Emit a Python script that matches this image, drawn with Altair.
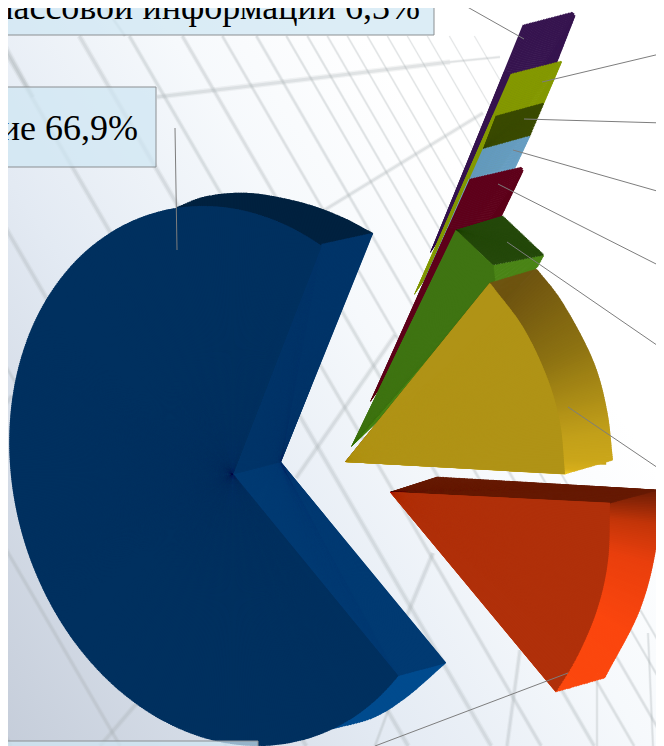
import numpy as np
import pandas as pd
import altair as alt

alt.data_transformers.disable_max_rows()

# ---- chart values readable in the picture ----
shown_names = ["Средства массовой информации", "ие"]
shown_values = [6.3, 66.9]

M = 8  # page margin: picture coordinates -> chart coordinates


def lerp_hex(stops, t):
    pts = [(s[0], tuple(int(s[1][i:i + 2], 16) for i in (1, 3, 5))) for s in stops]
    for (a, ca), (b, cb) in zip(pts, pts[1:]):
        if t <= b:
            f = 0 if b == a else (t - a) / (b - a)
            return "#%02x%02x%02x" % tuple(int(round(x + (y - x) * f)) for x, y in zip(ca, cb))
    return "#%02x%02x%02x" % pts[-1][1]


def spline(points, n=14):
    """Catmull-Rom through the given outline points."""
    p = np.array(points, float)
    p = np.vstack([2 * p[0] - p[1], p, 2 * p[-1] - p[-2]])
    out = []
    for i in range(1, len(p) - 2):
        for t in np.linspace(0, 1, n, endpoint=False):
            out.append(0.5 * ((2 * p[i]) + (-p[i - 1] + p[i + 1]) * t
                              + (2 * p[i - 1] - 5 * p[i] + 4 * p[i + 1] - p[i + 2]) * t ** 2
                              + (-p[i - 1] + 3 * p[i] - 3 * p[i + 1] + p[i + 2]) * t ** 3))
    out.append(p[-2])
    return [tuple(q) for q in out]


def ellipse_rim(apex, points, n=520):
    """Smooth rim: the ellipse closest to the outline points, walked as seen from the tip."""
    ax, ay = apex
    p = np.array(points, float) - (ax, ay)
    A = np.column_stack([p[:, 0] ** 2, p[:, 0] * p[:, 1], p[:, 1] ** 2, p[:, 0], p[:, 1]])
    a, b, c, d, e = np.linalg.lstsq(A, np.ones(len(p)), rcond=None)[0]
    th = np.unwrap(np.arctan2(p[:, 0], -p[:, 1]))
    out = []
    for t in np.linspace(th[0], th[-1], n):
        ux, uy = np.sin(t), -np.cos(t)
        qa = a * ux * ux + b * ux * uy + c * uy * uy
        qb = d * ux + e * uy
        r = (-qb + np.sqrt(qb * qb + 4 * qa)) / (2 * qa)
        out.append((ax + r * ux, ay + r * uy))
    return out


rows = []


def face(apex, outline, colour, step=1.6):
    """One surface of a slice: solid underlays and a fine fan of arcs around its tip."""
    ax, ay = apex
    pts = []
    for (x0, y0), (x1, y1) in zip(outline, outline[1:]):
        n = max(1, int(np.hypot(x1 - x0, y1 - y0) / step))
        for k in range(n):
            pts.append((x0 + (x1 - x0) * k / n, y0 + (y1 - y0) * k / n))
    pts.append(outline[-1])
    pts = np.array(pts)
    th = np.unwrap(np.arctan2(pts[:, 0] - ax, -(pts[:, 1] - ay)))
    rr = np.hypot(pts[:, 0] - ax, pts[:, 1] - ay)
    seg = np.hypot(*np.diff(pts, axis=0).T)
    s = np.concatenate([[0], np.cumsum(seg)]) / seg.sum()
    col = lambda t: colour if isinstance(colour, str) else lerp_hex(colour, t)

    lo = np.argsort(th)
    ths, rs, ss = th[lo], rr[lo], s[lo]
    for width in (0.7, 0.06):
        edges = np.linspace(ths[0], ths[-1], max(2, int((ths[-1] - ths[0]) / width) + 2))
        for a, b in zip(edges, edges[1:]):
            i0 = np.searchsorted(ths, a)
            i1 = max(np.searchsorted(ths, b), i0 + 1)
            rmin = rs[i0:i1 + 1].min()
            rows.append(dict(x=ax - M, y=ay - M, t1=a, t2=min(b + 0.012, ths[-1]),
                             r=max(rmin - 0.6, 0.5), c=col(float(ss[i0:i1 + 1].mean()))))
    for i in range(len(pts) - 1):
        r = (rr[i] + rr[i + 1]) / 2
        a, b = sorted((th[i], th[i + 1]))
        if b - a < 1e-5:
            continue
        rows.append(dict(x=ax - M, y=ay - M, t1=a - 0.35 / r, t2=b + 0.35 / r, r=r,
                         c=col((s[i] + s[i + 1]) / 2)))


# purple
face((430, 253), [(523, 25), (573, 12), (575, 16), (557, 62), (511, 74)], "#36144f")
# olive
face((414, 295), [(511, 74), (562, 61), (544, 103), (496, 116)], "#849900")
# dark olive
face((483, 149), [(496, 116), (544, 103), (530, 136)], "#3a4a00")
# blue
face((417, 297), [(483, 149), (530, 136), (516, 166), (469, 179)],
     [(0, "#6299bd"), (1, "#6fa5c8")])
# dark red
face((370, 402), [(470, 179), (522, 167), (523, 171), (502, 215), (456, 230)], "#5e001a")
# green
face((351, 447), [(493, 265), (544, 255), (538, 266), (490, 285)], "#4a8416")
face((456, 230), [(503, 216), (544, 255), (493, 265)], "#24480a")
face((351, 447), [(456, 230), (493, 265), (495, 280), (484, 290)], "#3f7412")
# yellow
face((345, 462), spline([(537, 269), (563, 303), (593, 360), (607, 410), (613, 460)]) + [(565, 474)],
     [(0, "#6e5410"), (0.35, "#8e7312"), (0.7, "#c2a01a"), (0.95, "#d6ae1b"), (1, "#f0c91e")])
face((345, 462), [(490, 283), (537, 269)], "#6e5410")
face((345, 462), spline([(490, 283), (523, 327), (547, 377), (560, 423), (565, 474)]), "#b09316")
# orange
face((390, 492), spline([(658, 490), (657, 543), (640, 610), (605, 678)]) + [(556, 692)],
     [(0, "#6b1c05"), (0.14, "#c23509"), (0.3, "#e93f0d"), (0.6, "#fb460e"), (1, "#fb480e")])
face((390, 492), [(437, 477), (658, 490), (610, 503)], "#661a04")
face((390, 492), spline([(610, 503), (608, 560), (597, 610), (577, 657), (556, 692)]), "#b0300a")
# large slice: back rim, lower rim, two cut walls, top surface
face((233, 474), spline([(177, 207), (207, 196), (250, 193), (300, 202), (340, 216), (373, 233)]), "#00213f")
face((233, 474), spline([(446, 663), (407, 697), (373, 718), (333, 729)]), "#004b8e")
face((281, 462), [(233, 474), (398, 676), (446, 663)], "#013a72")
face((281, 462), [(373, 233), (322, 244), (233, 474)], "#003468")
face((233, 474), ellipse_rim((233, 474), [(398, 676), (333, 729), (267, 746), (216, 739), (173, 727), (133, 703),
                                          (97, 670), (67, 630), (40, 583), (22, 530), (9, 450), (13, 390),
                                          (25, 347), (42, 307), (67, 270), (110, 232), (143, 217), (177, 207),
                                          (217, 207), (267, 220), (322, 244)]), "#00305f", step=1.4)

arcs = pd.DataFrame(rows)

# ---- faint building grid behind the chart ----
SLOPE = 0.58
base_x = [-385, -276, -170, -90, 12, 95, 145, 198, 238, 272, 302, 323, 343, 363, 383, 403, 423, 443, 465, 490]
base_w = [2.5, 2.5, 2, 3, 3, 3, 2.5, 2.5, 2, 2, 1.6, 1.5, 1.4, 1.3, 1.2, 1.1, 1, 1, 0.9, 0.8]
family = []
for b, w in zip(base_x, base_w):
    y_end = 746 if b < 343 else (430 + 0.41 * 253 + SLOPE * 63 - b) / (SLOPE + 0.41)
    family.append((b + SLOPE * (36 - 63), 36, b + SLOPE * (y_end - 63), y_end, w))
above = [(0, 37, 33, 97, 3), (100, 0, 125, 36, 2)]
cross = [
    (157, 97, 450, 62, 3), (450, 62, 500, 57, 1.5), (300, 225, 483, 113, 2.5), (296, 478, 395, 335, 3),
    (400, 632, 433, 553, 3), (507, 746, 520, 650, 2.5), (597, 746, 597, 680, 1.5), (653, 746, 648, 633, 1.5),
    (100, 746, 137, 703, 3), (0, 411, 12, 396, 3), (375, 746, 392, 700, 2),
]
grid_df = pd.DataFrame(family + above + cross, columns=["x0", "y0", "x1", "y1", "w"])
grid_df[["x0", "y0", "x1", "y1"]] -= M
grid_df["wide"] = grid_df["w"] * 1.9

# ---- leader lines ----
leaders = [
    (455, 0, 524, 39), (664, 53, 542, 82), (664, 123, 524, 119), (664, 193, 513, 150),
    (664, 268, 498, 184), (664, 350, 507, 242), (664, 472, 568, 407), (375, 746, 568, 673),
    (175, 128, 177, 250),
]
lead_df = pd.DataFrame(leaders, columns=["x0", "y0", "x1", "y1"]) - M

NOAX = dict(scale=None, axis=None)


def rect(x0, x1, y0, y1):
    return dict(x=alt.value(x0 - M), x2=alt.value(x1 - M), y=alt.value(y0 - M), y2=alt.value(y1 - M))


back = alt.Chart(pd.DataFrame({"a": [0]})).mark_rect(
    fill=alt.Gradient(gradient="linear", x1=0, y1=1, x2=1, y2=0.25,
                      stops=[alt.GradientStop(offset=0, color="#c3cbd8"),
                             alt.GradientStop(offset=0.38, color="#e3eaf3"),
                             alt.GradientStop(offset=0.62, color="#f6f9fc"),
                             alt.GradientStop(offset=0.8, color="#ffffff"),
                             alt.GradientStop(offset=1, color="#ffffff")])
).encode(**rect(-10, 680, -10, 760))


def grid_rules(field, opacity):
    return alt.Chart(grid_df).mark_rule(color="#a8aeb2", opacity=opacity).encode(
        x=alt.X("x0:Q", **NOAX), y=alt.Y("y0:Q", **NOAX), x2="x1:Q", y2="y1:Q",
        strokeWidth=alt.StrokeWidth(f"{field}:Q", scale=None, legend=None))


slices = alt.Chart(arcs).mark_arc().encode(
    x=alt.X("x:Q", **NOAX), y=alt.Y("y:Q", **NOAX),
    theta=alt.Theta("t1:Q", scale=None, stack=None), theta2="t2:Q",
    radius=alt.Radius("r:Q", scale=None),
    fill=alt.Fill("c:N", scale=None, legend=None))

lead_layer = alt.Chart(lead_df).mark_rule(color="#7d7d7d", strokeWidth=1).encode(
    x=alt.X("x0:Q", **NOAX), y=alt.Y("y0:Q", **NOAX), x2="x1:Q", y2="y1:Q")

box_style = dict(fill="#cfe6f3", fillOpacity=0.72, stroke="#8b8f92", strokeWidth=1)
one = pd.DataFrame({"a": [0]})
box1 = alt.Chart(one).mark_rect(**box_style).encode(**rect(-10, 434, -10, 35))
box2 = alt.Chart(one).mark_rect(**box_style).encode(**rect(-10, 156, 87, 167))
box3 = alt.Chart(one).mark_rect(**box_style).encode(**rect(-10, 258, 741, 770))


def label(name, v, xr, yb):
    txt = f"{name} {v}%".replace(".", ",")
    return alt.Chart(one).mark_text(text=txt, font="Liberation Serif", fontSize=36, align="right",
                                    baseline="alphabetic", color="#000000").encode(
        x=alt.value(xr - M), y=alt.value(yb - M))


chart = alt.layer(
    back, grid_rules("wide", 0.14), grid_rules("w", 0.24), slices, box1, box2, box3,
    label(shown_names[0], shown_values[0], 420, 19),
    label(shown_names[1], shown_values[1], 138, 140),
    lead_layer,
).properties(width=648, height=738, padding=0,
             autosize=alt.AutoSizeParams(type="none")
).configure_view(stroke=None)

chart.save("out.html", embed_options={"renderer": "svg", "actions": False})
